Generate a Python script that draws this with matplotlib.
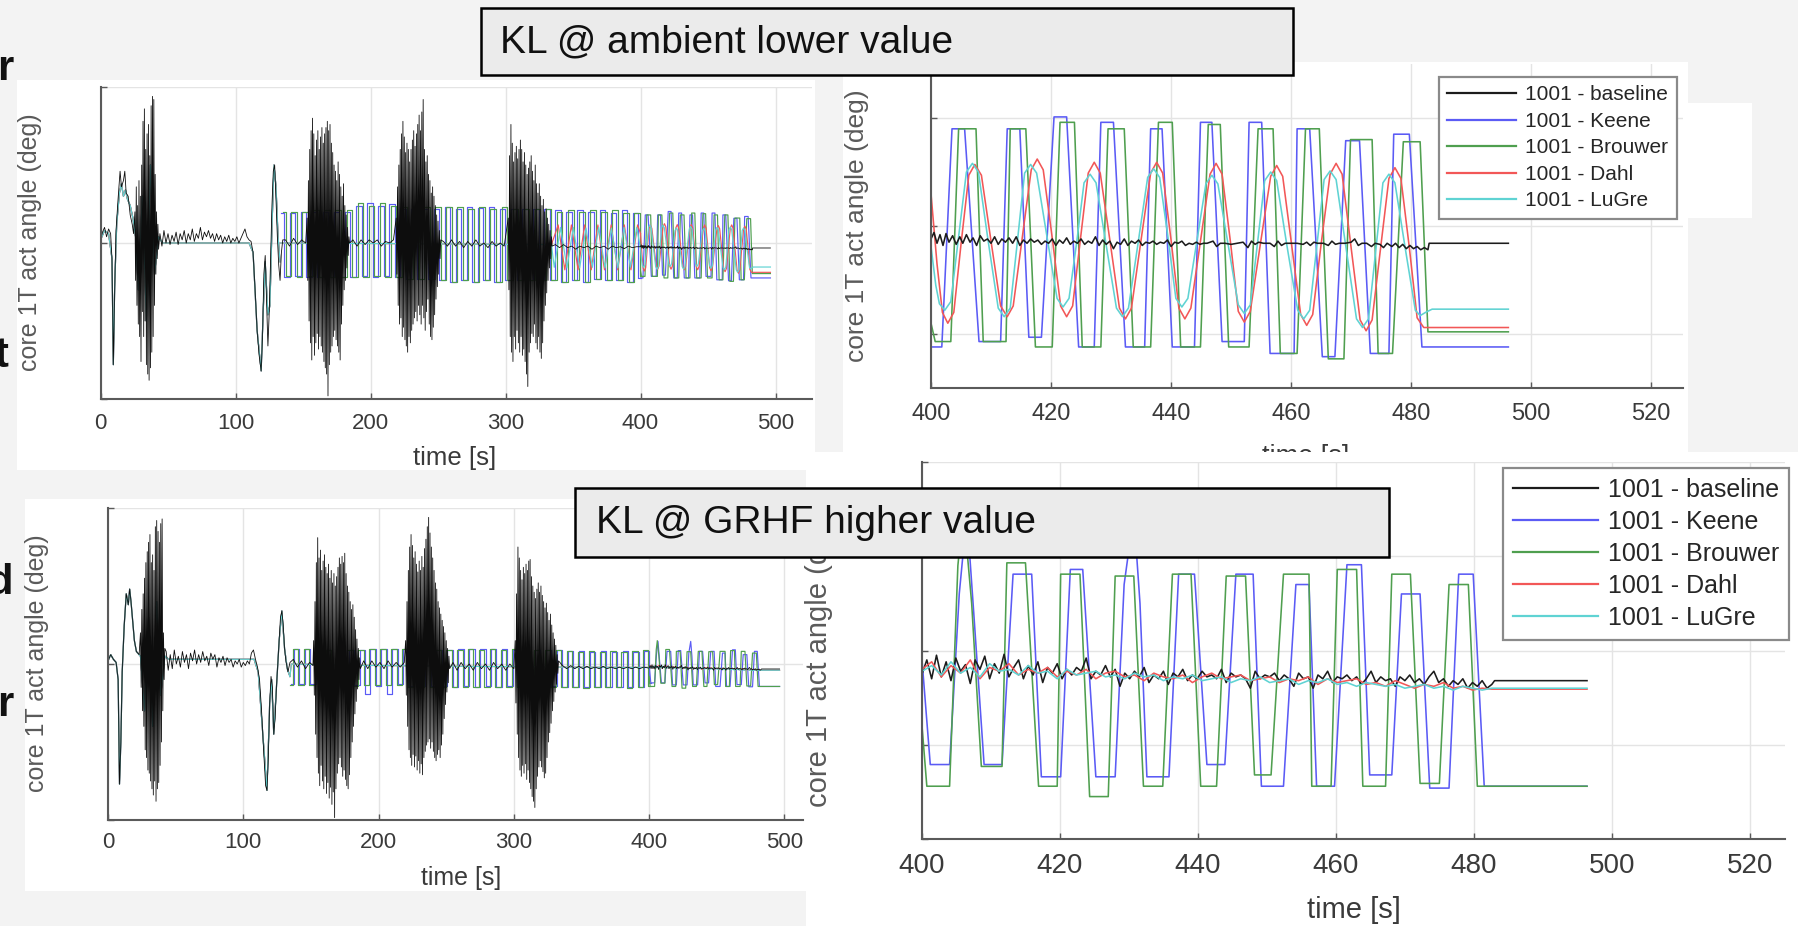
import numpy as np
import matplotlib
matplotlib.use('Agg')
import matplotlib.pyplot as plt
from matplotlib.patches import Rectangle
from matplotlib.lines import Line2D

plt.rcParams['font.family'] = ['Liberation Sans', 'DejaVu Sans']
W, H = 1798, 926

# ------------------------------------------------------------------ data
series_labels = ['1001 - baseline', '1001 - Keene', '1001 - Brouwer', '1001 - Dahl', '1001 - LuGre']
series_colors = ['#1c1c1c', '#5b5bf5', '#4f9f4f', '#f25757', '#5fd3d3']
box_titles = ['KL @ ambient lower value', 'KL @ GRHF higher value']
ylabel_text = 'core 1T act angle (deg)'
xlabel_text = 'time [s]'
overview_xticks = [0, 100, 200, 300, 400, 500]
zoom_xticks = [400, 420, 440, 460, 480, 500, 520]

# ---- ambient, zoom window (400-496 s)
amb_keene = [(400.0,-1.12),(401.8,-1.12),(403.5,0.90),(405.6,0.90),(408.0,-1.07),(411.6,-1.07),(412.7,0.90),(414.8,0.90),
             (416.3,-1.03),(418.4,-1.03),(420.5,1.01),(422.6,1.01),(424.6,-1.12),(427.2,-1.12),(428.3,0.96),(430.4,0.96),
             (432.4,-1.12),(435.6,-1.12),(436.6,0.90),(438.5,0.90),(440.2,-1.12),(443.9,-1.12),(444.9,0.96),(446.8,0.96),
             (448.5,-1.07),(452.2,-1.07),(453.0,0.96),(455.1,0.96),(456.5,-1.18),(460.5,-1.18),(461.0,0.90),(463.1,0.90),
             (465.2,-1.21),(467.3,-1.21),(469.1,0.79),(471.4,0.79),(473.2,-1.18),(476.3,-1.18),(477.1,0.85),(479.7,0.85),
             (481.8,-1.12),(496.2,-1.12)]
amb_brouwer = [(400.0,-0.90),(400.7,-1.07),(403.3,-1.07),(404.6,0.90),(407.5,0.90),(408.7,-1.07),(412.5,-1.07),(413.2,0.90),
               (415.8,0.90),(417.4,-1.12),(420.2,-1.12),(421.5,0.96),(423.9,0.96),(425.2,-1.12),(428.3,-1.12),(429.5,0.90),
               (432.2,0.90),(433.7,-1.12),(436.6,-1.12),(437.9,0.96),(440.2,0.96),(441.6,-1.12),(444.9,-1.12),(446.2,0.94),
               (448.2,0.94),(449.6,-1.12),(453.0,-1.12),(454.5,0.90),(457.0,0.90),(458.2,-1.18),(461.0,-1.18),(462.4,0.90),
               (464.7,0.90),(466.2,-1.23),(468.8,-1.23),(469.9,0.80),(473.5,0.80),(474.5,-1.18),(476.9,-1.18),(478.7,0.78),
               (481.5,0.78),(482.8,-0.98),(496.2,-0.98)]
amb_dahl = [(400.0,0.30),(401.0,-0.35),(401.9,-0.80),(402.8,-0.90),(403.8,-0.80),(405.0,-0.17),(406.3,0.47),(407.3,0.57),
            (408.4,0.47),(410.0,-0.14),(411.6,-0.74),(412.7,-0.84),(413.7,-0.74),(415.2,-0.11),(416.7,0.52),(417.7,0.62),
            (418.7,0.52),(420.2,-0.11),(421.6,-0.74),(422.6,-0.84),(423.6,-0.74),(424.9,-0.12),(426.2,0.49),(427.2,0.59),
            (428.2,0.49),(429.8,-0.13),(431.4,-0.76),(432.4,-0.86),(433.4,-0.76),(435.0,-0.13),(436.6,0.49),(437.6,0.59),
            (438.6,0.49),(440.0,-0.13),(441.3,-0.76),(442.3,-0.86),(443.3,-0.76),(444.9,-0.14),(446.5,0.48),(447.5,0.58),
            (448.5,0.48),(449.9,-0.15),(451.2,-0.79),(452.2,-0.89),(453.2,-0.79),(454.9,-0.16),(456.6,0.46),(457.6,0.56),
            (458.6,0.46),(460.1,-0.18),(461.6,-0.82),(462.6,-0.92),(463.6,-0.82),(465.0,-0.17),(466.5,0.48),(467.5,0.58),
            (468.5,0.48),(470.0,-0.20),(471.5,-0.87),(472.5,-0.97),(473.5,-0.87),(474.9,-0.21),(476.3,0.44),(477.3,0.54),
            (478.3,0.44),(479.7,-0.20),(481.0,-0.85),(482.1,-0.94),(496.2,-0.94)]
amb_lugre = [(400.0,-0.19),(400.8,-0.55),(401.4,-0.72),(402.3,-0.78),(403.3,-0.70),(404.6,-0.10),(405.9,0.50),(406.9,0.58),
             (407.9,0.50),(409.5,-0.13),(411.2,-0.76),(412.2,-0.84),(413.2,-0.76),(414.4,-0.14),(415.6,0.49),(416.6,0.57),
             (417.6,0.49),(419.3,-0.09),(421.0,-0.67),(422.0,-0.75),(423.0,-0.67),(424.3,-0.14),(425.5,0.40),(426.5,0.48),
             (427.5,0.40),(429.2,-0.18),(430.9,-0.76),(431.9,-0.84),(432.9,-0.76),(434.5,-0.16),(436.1,0.45),(437.1,0.53),
             (438.1,0.45),(439.5,-0.11),(440.8,-0.67),(441.8,-0.75),(442.8,-0.67),(444.3,-0.14),(445.8,0.39),(446.8,0.47),
             (447.8,0.39),(449.5,-0.17),(451.2,-0.73),(452.2,-0.81),(453.2,-0.73),(454.4,-0.16),(455.6,0.42),(456.6,0.50),
             (457.6,0.42),(459.3,-0.18),(461.1,-0.78),(462.1,-0.86),(463.1,-0.78),(464.3,-0.18),(465.5,0.43),(466.5,0.51),
             (467.5,0.43),(469.2,-0.22),(470.9,-0.86),(471.9,-0.94),(472.9,-0.86),(474.1,-0.23),(475.3,0.40),(476.3,0.48),
             (477.3,0.40),(479.0,-0.20),(480.7,-0.78),(481.5,-0.83),(482.4,-0.80),(483.5,-0.77),(496.2,-0.77)]
amb_base = [(400.0,-0.12),(400.5,-0.06),(401.0,-0.16),(401.5,-0.08),(402.0,-0.18),(402.5,-0.07),(403.0,-0.15),(403.6,-0.09),
            (404.2,-0.17),(404.8,-0.10),(405.3,-0.16),(405.9,-0.08),(406.5,-0.15),(407.0,-0.11),(407.6,-0.18),(408.2,-0.09),
            (408.8,-0.14),(409.4,-0.12),(410.0,-0.16),(410.6,-0.10),(411.2,-0.17),(411.8,-0.12),(412.4,-0.15),(413.0,-0.11),
            (413.6,-0.16),(414.2,-0.10),(414.8,-0.18),(415.4,-0.13),(416.0,-0.16),(416.6,-0.12),(417.2,-0.15),(417.8,-0.13),
            (418.4,-0.17),(419.0,-0.14),(419.6,-0.16),(420.2,-0.12),(420.8,-0.18),(421.4,-0.13),(422.0,-0.16),(422.6,-0.11),
            (423.2,-0.17),(423.8,-0.14),(424.4,-0.16),(425.0,-0.12),(425.6,-0.17),(426.2,-0.14),(426.8,-0.16),(427.4,-0.10),
            (428.0,-0.18),(428.6,-0.13),(429.2,-0.17),(429.8,-0.14),(430.4,-0.21),(431.0,-0.15),(431.6,-0.17),(432.2,-0.12),
            (432.8,-0.18),(433.4,-0.14),(434.0,-0.16),(434.6,-0.13),(435.2,-0.18),(435.8,-0.15),(436.4,-0.16),(437.0,-0.14),
            (437.6,-0.17),(438.2,-0.15),(438.8,-0.16),(439.4,-0.13),(440.0,-0.19),(440.6,-0.15),(441.2,-0.16),(441.8,-0.14),
            (442.4,-0.18),(443.0,-0.16),(443.6,-0.17),(444.2,-0.15),(444.8,-0.17),(445.4,-0.16),(446.0,-0.16),(447.0,-0.14),
            (447.6,-0.19),(448.2,-0.16),(449.0,-0.16),(450.0,-0.17),(451.0,-0.16),(452.0,-0.15),(452.8,-0.20),(453.4,-0.14),
            (454.0,-0.17),(454.6,-0.15),(455.4,-0.16),(456.5,-0.16),(457.2,-0.19),(457.8,-0.14),(458.4,-0.18),(459.0,-0.16),
            (460.0,-0.16),(461.0,-0.16),(462.0,-0.17),(462.6,-0.15),(463.2,-0.18),(463.8,-0.15),(464.4,-0.16),(465.4,-0.16),
            (466.2,-0.18),(466.8,-0.14),(467.4,-0.17),(468.0,-0.16),(469.0,-0.16),(470.0,-0.15),(470.6,-0.12),(471.2,-0.18),
            (471.8,-0.16),(472.6,-0.16),(473.4,-0.19),(474.0,-0.16),(474.8,-0.17),(475.4,-0.20),(476.0,-0.16),(476.8,-0.19),
            (477.4,-0.16),(478.0,-0.20),(478.6,-0.17),(479.2,-0.21),(479.8,-0.18),(480.4,-0.21),(481.0,-0.19),(481.6,-0.22),
            (482.2,-0.20),(482.8,-0.22),(483.0,-0.16),(496.2,-0.16)]

# ---- ambient, full run before 400 s (overview)
amb_early = [(0,0.1),(3,0.4),(6,0.3),(8.5,-0.5),(9.5,-3.9),(10.5,-1.4),(12,0.6),(14,1.6),(15.5,1.9),(17,1.5),(18.5,1.7),
             (20,1.4),(22,1.2),(24,0.8),(26,0.2),(28,-1.5),(31,1.5),(34,-2.5),(37,2.5),(40,-1.0),(43,0.2),(46,0.0),(110,0.0),
             (113,-0.3),(116,-2.8),(119,-4.1),(120.5,-2.2),(122,-0.6),(124,-2.3),(125.5,-2.0),(127,0.5),(128.5,2.5),
             (130,1.8),(131.5,0.2),(133,-0.6)]
amb_sq_t_keene = [133.9,138.0,142.1,146.2,150.3,154.4,158.5,162.6,166.7,170.8,174.9,179.0,183.1,187.2,191.3,195.4,199.5,
                  203.6,207.7,211.8,215.9,220.0,224.1,228.2,232.3,236.4,240.5,244.6,248.7,252.8,256.9,261.0,265.1,269.2,
                  273.3,277.4,281.5,285.6,289.7,293.8,297.9,302.0,306.1,310.2,314.3,318.4,322.5,326.6,330.7,334.8,338.9,
                  343.0,347.1,351.2,355.3,359.4,363.5,367.6,371.7,375.8,379.9,384.0,388.1,392.2,396.3,400.4]
amb_sq_keene = [0.95,-1.08,0.95,-1.05,0.98,-1.08,
                1.0,-1.1,1.0,-1.1,1.0,-1.1,1.0,-1.1,
                1.2,-1.05,1.27,-1.08,1.2,-1.05,1.25,-1.1,
                1.1,-1.15,1.1,-1.15,1.1,-1.15,1.1,-1.2,
                1.16,-1.24,1.1,-1.2,1.16,-1.24,1.12,-1.2,1.16,-1.24,1.1,-1.2,
                1.1,-1.2,1.1,-1.2,1.1,-1.2,1.1,-1.2,
                1.06,-1.24,1.0,-1.2,1.06,-1.24,1.0,-1.15,1.06,-1.2,0.95,-1.2,1.06,-1.24,0.96,-1.12]
amb_sq_t_brouwer = [135.1,139.2,143.3,147.4,151.5,155.6,159.7,163.8,167.9,172.0,176.1,180.2,184.3,188.4,192.5,196.6,
                    200.7,204.8,208.9,213.0,217.1,221.2,225.3,229.4,233.5,237.6,241.7,245.8,249.9,254.0,258.1,262.2,
                    266.3,270.4,274.5,278.6,282.7,286.8,290.9,295.0,299.1,303.2,307.3,311.4,315.5,319.6,323.7,327.8,
                    331.9,336.0,340.1,344.2,348.3,352.4,356.5,360.6,364.7,368.8,372.9,377.0,381.1,385.2,389.3,393.4,
                    397.5,401.6]
amb_sq_brouwer = [1.0,-1.05,1.0,-1.08,1.0,-1.05,
                  1.05,-1.1,1.05,-1.1,1.05,-1.1,1.05,-1.1,
                  1.27,-1.08,1.2,-1.05,1.27,-1.08,1.2,-1.1,
                  1.15,-1.15,1.15,-1.15,1.15,-1.15,1.15,-1.2,
                  1.16,-1.24,1.16,-1.2,1.1,-1.24,1.16,-1.2,1.1,-1.24,1.16,-1.2,
                  1.1,-1.2,1.1,-1.2,1.1,-1.2,1.1,-1.2,
                  1.0,-1.24,1.06,-1.2,1.0,-1.24,1.06,-1.15,1.0,-1.2,1.06,-1.2,0.96,-1.24,0.96,-1.07]
amb_dahl_pre = [(133,0.0),(334,-0.05),(339.0,0.58),(343.9,-0.86),(348.8,0.58),(353.7,-0.86),(358.6,0.58),(363.5,-0.86),
                (368.4,0.58),(373.3,-0.86),(378.2,0.58),(383.1,-0.86),(388.0,0.58),(392.9,-0.86),(397.8,0.58),(400.0,0.30)]
amb_lugre_pre = [(133,0.0),(334,-0.05),(336.1,-0.78),(340.8,0.50),(345.5,-0.80),(350.2,0.50),(354.9,-0.80),(359.6,0.48),
                 (364.3,-0.78),(369.0,0.50),(373.7,-0.80),(378.4,0.48),(383.1,-0.80),(387.8,0.50),(392.5,-0.78),
                 (397.2,0.50),(400.0,-0.19)]
amb_base_start = [(0,0.1),(1.5,0.35),(3,0.5),(4.5,0.2),(6,0.45),(7.5,0.3),(8.5,-0.5),(9.5,-3.9),(10.5,-1.5),(11.5,0.4),
                  (13,1.4),(14.5,2.3),(15.5,1.8),(17,2.0),(18,2.3),(19,1.6),(20.5,1.5),(22,0.9),(23.5,0.6),(24.5,0.3)]
amb_burst1 = (25.5, 0.5, [1.0,-1.2,1.8,-2.0,1.2,-2.6,2.0,-3.0,1.5,-3.8,2.5,-2.2,3.9,-3.0,4.3,-2.5,3.0,-3.9,3.5,-4.2,
                          3.8,-4.4,2.8,-4.0,4.4,-3.5,4.7,-3.0,4.6,-2.0,2.2,-1.0,1.0,-0.5,0.6,-0.2])
amb_quiet1 = (44.0, 1.5, [0.3,-0.1,0.4,0.0,0.3,-0.05,0.25,0.05,0.35,-0.05,0.3,0.1,0.4,0.0,0.3,0.1,0.45,0.05,0.3,0.15,
                          0.5,0.1,0.35,0.2,0.4,0.15,0.3,0.05,0.3,0.1,0.25,0.0,0.2,0.05,0.25,0.0,0.15,0.05,0.2,0.0,
                          0.15,0.3,0.45,0.2,0.1,0.05])
amb_dip = [(113,-0.3),(114.5,-1.5),(116,-2.8),(117.5,-3.6),(119,-4.1),(120,-3.0),(121,-1.0),(122,-0.4),(123,-1.8),
           (124,-3.3),(125,-2.2),(126,-0.5),(127,1.2),(128,2.3),(129,2.5),(130,1.4),(131,0.2),(132,-0.7),(133,-1.2),
           (134,-0.3),(135,0.1),(137,0.1),(140,-0.1),(143,0.15),(146,-0.05),(149,0.1),(152,0.0)]
amb_burst2 = (153.0, 0.5, [0.8,-1.2,2.0,-2.5,3.0,-3.2,3.6,-3.75,4.0,-3.0,3.5,-3.6,2.8,-3.2,3.3,-2.9,3.6,-3.4,3.0,-3.0,
                           3.4,-3.3,3.7,-3.5,3.2,-3.8,3.5,-4.0,3.7,-4.2,3.9,-4.9,3.6,-3.9,3.8,-3.5,3.2,-3.3,2.9,-3.0,
                           2.5,-2.8,2.3,-3.1,2.0,-3.3,2.6,-3.5,2.2,-3.75,1.8,-2.6,1.5,-2.0,1.9,-1.5,1.2,-1.2,0.9,-0.8,
                           0.5,-0.4,0.2,0.0])
amb_quiet2 = (187.0, 3.0, [0.1,-0.1,0.1,-0.05,0.1,0.0,0.1,-0.1,0.05,0.0,0.1])
amb_burst3 = (219.0, 0.5, [0.8,-1.0,1.8,-2.0,2.5,-2.6,3.0,-2.4,3.5,-3.0,3.9,-2.7,3.4,-3.1,2.9,-3.3,3.2,-3.5,3.0,-3.0,
                           2.6,-3.2,3.0,-2.8,3.3,-2.6,3.6,-2.4,3.1,-2.2,3.5,-2.5,3.8,-2.0,4.1,-2.3,3.6,-2.6,4.2,-2.0,
                           4.6,-2.4,3.0,-2.8,2.6,-2.2,2.8,-1.8,2.2,-2.6,2.0,-3.0,1.6,-3.1,1.8,-2.7,1.5,-2.3,1.2,-1.8,
                           0.9,-1.4,0.7,-1.0,0.4,-0.5,0.1])
amb_quiet3 = (254.0, 3.0, [0.05,-0.1,0.1,-0.1,0.05,-0.15,0.05,-0.1,0.1,-0.1,0.0,-0.15,0.05,-0.1,0.0,-0.1])
amb_burst4 = (302.0, 0.5, [0.8,-1.5,2.8,-3.0,3.8,-3.5,3.2,-3.8,2.6,-3.0,2.9,-3.4,3.1,-2.8,2.7,-3.2,3.0,-3.5,3.3,-3.0,
                           3.0,-3.6,2.6,-3.4,2.9,-3.8,2.5,-4.2,2.2,-4.6,2.4,-3.5,2.6,-3.2,2.8,-2.9,2.3,-3.0,2.0,-2.6,
                           2.5,-3.2,1.9,-3.4,1.6,-3.0,1.9,-3.5,1.5,-3.7,1.2,-3.2,1.4,-2.5,1.0,-2.0,1.1,-1.6,0.8,-1.2,
                           0.6,-0.8,0.4,-0.5,0.2,-0.1])
amb_tail = (337.0, 3.0, [-0.05,-0.15,-0.05,-0.15,-0.1,-0.2,-0.1,-0.15,-0.1,-0.2,-0.1,-0.15,-0.1,-0.2,-0.1,-0.15,
                         -0.12,-0.18,-0.1,-0.15,-0.12])

# ---- GRHF, zoom window (400-496 s)
gr_keene = [(400.0,-0.10),(401.2,-1.21),(404.0,-1.21),(405.4,0.60),(406.5,1.45),(407.5,0.40),(409.0,-1.21),(411.6,-1.21),
            (413.2,0.81),(415.9,0.81),(417.3,-1.34),(420.1,-1.34),(421.5,0.86),(423.3,0.86),(425.2,-1.34),(428.0,-1.34),
            (429.3,0.70),(430.7,1.45),(431.6,0.50),(432.6,-1.34),(435.8,-1.34),(437.2,0.81),(439.5,0.81),(441.3,-1.21),
            (443.9,-1.21),(445.5,0.81),(448.0,0.81),(449.2,-1.44),(452.4,-1.44),(454.2,0.70),(456.1,0.70),(457.2,-1.44),
            (459.8,-1.44),(461.6,0.91),(463.7,0.91),(464.9,-1.32),(468.1,-1.32),(469.5,0.60),(472.2,0.60),(473.6,-1.46),
            (476.4,-1.46),(477.8,0.81),(479.9,0.81),(481.5,-1.44),(496.4,-1.44)]
gr_brouwer = [(400.0,-0.80),(400.7,-1.44),(404.0,-1.44),(405.2,0.90),(406.0,1.50),(407.2,0.50),(408.6,-1.23),(411.6,-1.23),
              (412.3,0.93),(415.0,0.93),(416.9,-1.44),(419.6,-1.44),(420.1,0.81),(422.9,0.81),(424.3,-1.55),(427.0,-1.55),
              (428.0,0.79),(430.7,0.79),(432.1,-1.44),(434.9,-1.44),(436.3,0.81),(439.0,0.81),(440.4,-1.44),(442.7,-1.44),
              (444.1,0.79),(446.9,0.79),(448.2,-1.32),(450.6,-1.32),(452.4,0.81),(456.1,0.81),(456.5,-1.44),(459.3,-1.44),
              (460.2,0.86),(463.0,0.86),(463.9,-1.44),(467.2,-1.44),(468.1,0.81),(470.8,0.81),(472.2,-1.41),(475.0,-1.41),
              (476.4,0.70),(479.2,0.70),(480.5,-1.44),(496.4,-1.44)]
gr_base_noise = (400.0, 0.7, [-0.25,-0.10,-0.30,-0.05,-0.28,-0.12,-0.32,-0.08,-0.22,-0.15,-0.35,-0.10,-0.20,-0.06,-0.30,
                              -0.14,-0.24,-0.04,-0.28,-0.18,-0.10,-0.30,-0.16,-0.26,-0.12,-0.34,-0.18,-0.24,-0.14,-0.30,
                              -0.20,-0.26,-0.18,-0.22,-0.08,-0.30,-0.22,-0.26,-0.16,-0.28,-0.20,-0.38,-0.24,-0.30,-0.22,
                              -0.28,-0.18,-0.34,-0.26,-0.30,-0.22,-0.36,-0.24,-0.28,-0.20,-0.32,-0.26,-0.30,-0.22,-0.28,
                              -0.26,-0.30,-0.20,-0.34,-0.24,-0.28,-0.26,-0.30,-0.40,-0.22,-0.30,-0.26,-0.28,-0.24,-0.32,
                              -0.26,-0.30,-0.38,-0.24,-0.30,-0.28,-0.40,-0.26,-0.30,-0.22,-0.34,-0.28,-0.30,-0.26,-0.32,
                              -0.28,-0.36,-0.30,-0.22,-0.34,-0.28,-0.32,-0.30,-0.38,-0.28,-0.32,-0.26,-0.34,-0.30,-0.36,
                              -0.28,-0.22,-0.34,-0.30,-0.38,-0.32,-0.36,-0.30,-0.40,-0.34,-0.38,-0.32,-0.40,-0.36])
gr_base_end = [(483.0,-0.32),(496.4,-0.32)]
gr_dahl_noise = (400.0, 1.4, [-0.20,-0.12,-0.28,-0.16,-0.24,-0.10,-0.30,-0.18,-0.22,-0.14,-0.26,-0.20,-0.24,-0.18,-0.28,
                              -0.22,-0.26,-0.20,-0.30,-0.24,-0.22,-0.28,-0.26,-0.32,-0.24,-0.28,-0.30,-0.26,-0.34,-0.28,
                              -0.24,-0.30,-0.28,-0.26,-0.32,-0.30,-0.28,-0.34,-0.30,-0.32,-0.28,-0.36,-0.30,-0.34,-0.32,
                              -0.30,-0.36,-0.34,-0.38,-0.32,-0.36,-0.40,-0.36,-0.38,-0.34,-0.40,-0.38,-0.42,-0.40,-0.41])
gr_dahl_end = [(483.0,-0.41),(496.4,-0.41)]
gr_lugre_noise = (400.0, 1.4, [-0.22,-0.16,-0.26,-0.12,-0.24,-0.18,-0.28,-0.14,-0.22,-0.20,-0.26,-0.16,-0.24,-0.22,-0.30,
                               -0.20,-0.26,-0.24,-0.22,-0.28,-0.26,-0.30,-0.24,-0.28,-0.26,-0.32,-0.28,-0.30,-0.26,-0.32,
                               -0.30,-0.28,-0.34,-0.30,-0.32,-0.28,-0.34,-0.32,-0.30,-0.36,-0.32,-0.34,-0.30,-0.36,-0.34,
                               -0.38,-0.34,-0.36,-0.38,-0.36,-0.40,-0.38,-0.36,-0.40,-0.38,-0.42,-0.38,-0.40,-0.42,-0.40])
gr_lugre_end = [(483.0,-0.40),(496.4,-0.40)]

# ---- GRHF, full run before 400 s (overview)
gr_early = [(0,0.2),(2,0.6),(4,0.3),(6,0.1),(7.5,-1.0),(8.5,-7.7),(9.5,-5.0),(10.5,-0.5),(12,2.5),(13.5,4.5),(15,3.8),
            (16,4.8),(17,4.0),(18,3.0),(19.5,1.5),(21,0.8),(24,0.5),(27,-3.0),(30,3.0),(33,-4.0),(36,4.0),(39,-2.0),
            (42,0.5),(45,0.3),(108,0.3),(111,-0.5),(114,-4.0),(117.5,-8.1),(119.5,-2.5),(121,-1.0),(122.5,-4.5),
            (124.5,-1.5),(126.5,1.5),(128.5,3.4),(130.5,1.0),(132.5,-0.3),(134.5,-0.8)]
gr_sq_t_keene = [135.3,139.3,143.4,147.4,151.5,155.5,159.6,163.6,167.7,171.7,175.8,179.8,183.9,187.9,192.0,196.0,200.1,
                 204.1,208.2,212.2,216.3,220.3,224.4,228.4,232.5,236.5,240.6,244.6,248.7,252.7,256.8,260.8,264.9,268.9,
                 273.0,277.0,281.1,285.1,289.2,293.2,297.3,301.3,305.4,309.4,313.5,317.5,321.6,325.6,329.7,333.7,337.8,
                 341.8,345.9,349.9,354.0,358.0,362.1,366.1,370.2,374.2,378.3,382.3,386.4,390.4,394.5,398.5,401.0]
gr_sq_keene = [-1.3,0.94,-1.3,0.94,-1.3,0.9,
               -1.35,0.9,-1.35,0.9,-1.35,0.9,-1.35,0.9,
               -1.9,0.94,-1.4,0.94,-1.9,0.94,-1.3,0.94,
               -1.4,0.9,-1.4,0.9,-1.4,0.9,-1.4,0.9,
               -1.5,0.94,-1.4,0.94,-1.5,0.94,-1.4,0.94,-1.5,0.94,-1.4,0.9,
               -1.4,0.9,-1.4,0.9,-1.4,0.9,-1.4,0.9,
               -1.5,0.83,-1.45,0.83,-1.5,0.8,-1.45,0.83,-1.5,0.8,-1.45,0.83,-1.5,0.8,-1.45,0.83,-1.21]
gr_sq_t_brouwer = [134.5,138.5,142.6,146.6,150.7,154.7,158.8,162.8,166.9,170.9,175.0,179.0,183.1,187.1,191.2,195.2,
                   199.3,203.3,207.4,211.4,215.5,219.5,223.6,227.6,231.7,235.7,239.8,243.8,247.9,251.9,256.0,260.0,
                   264.1,268.1,272.2,276.2,280.3,284.3,288.4,292.4,296.5,300.5,304.6,308.6,312.7,316.7,320.8,324.8,
                   328.9,332.9,337.0,341.0,345.1,349.1,353.2,357.2,361.3,365.3,369.4,373.4,377.5,381.5,385.6,389.6,
                   393.7,397.7,400.7]
gr_sq_brouwer = [-1.35,0.94,-1.35,0.94,-1.35,0.94,
                 -1.4,0.9,-1.4,0.9,-1.4,0.9,-1.4,0.9,
                 -1.35,0.94,-1.35,0.94,-1.35,0.94,-1.35,0.94,
                 -1.45,0.9,-1.45,0.9,-1.45,0.9,-1.45,0.9,
                 -1.5,0.9,-1.5,0.94,-1.5,0.9,-1.5,0.94,-1.5,0.9,-1.5,0.94,
                 -1.45,0.9,-1.45,0.9,-1.45,0.9,-1.45,0.9,
                 -1.5,0.83,-1.5,0.8,-1.55,0.83,-1.5,0.8,-1.5,0.83,-1.5,0.8,-1.55,0.83,-1.5,0.9,-1.44]
gr_smooth_pre = [(134.5,-0.8),(135.5,0.0),(200,-0.1),(336,-0.2),(400.0,-0.22)]
gr_base_start = [(0,0.2),(2,0.6),(4,0.3),(6,0.1),(7.5,-1.0),(8.5,-7.7),(9.5,-5.0),(10.5,-0.5),(12,2.5),(13.5,4.5),
                 (15,3.8),(16,4.8),(17,4.0),(18,3.0),(19.5,1.5),(21,0.8),(23,0.6)]
gr_burst1 = (24.0, 0.5, [2.0,-1.5,3.5,-3.0,4.5,-4.0,5.5,-5.5,6.5,-6.0,7.2,-6.8,7.8,-7.0,8.3,-7.5,6.5,-8.0,7.0,-8.4,
                         6.0,-7.5,8.8,-8.8,9.2,-8.0,8.5,-7.6,7.8,-6.5,9.0,-5.0,9.3,-3.0,2.0,-1.0,1.0])
gr_quiet1 = (43.0, 1.5, [0.8,-0.4,0.6,-0.3,0.9,0.0,0.5,-0.2,0.8,0.1,0.6,-0.3,0.7,0.2,0.9,0.0,0.6,0.1,0.8,0.2,
                         0.5,-0.1,0.7,0.3,0.6,-0.2,0.4,0.1,0.5,-0.1,0.4,0.1,0.3,-0.2,0.2,0.0,0.3,-0.2,0.1,-0.1,
                         0.2,0.0,0.7,0.9,0.3,-0.2])
gr_dip = [(112,-1.0),(113.5,-3.0),(115,-5.5),(116.5,-7.8),(117.5,-8.1),(118.5,-6.0),(119.5,-2.5),(120.5,-0.8),
          (121.5,-1.5),(122.5,-4.5),(123.5,-3.5),(124.5,-1.5),(125.5,0.0),(126.5,1.5),(127.5,3.0),(128.5,3.4),
          (129.5,2.5),(130.5,1.0),(131.5,0.2),(133,-0.5),(134.5,0.1),(137,0.3),(140,-0.2),(143,0.2),(146,-0.3),
          (149,0.1),(151.5,-0.1)]
gr_burst2 = (152.0, 0.5, [1.5,-2.0,4.0,-4.5,6.5,-6.0,8.1,-7.0,6.8,-7.8,7.3,-6.5,6.0,-7.5,6.6,-8.0,7.0,-7.2,6.2,-8.3,
                          5.8,-7.6,6.4,-8.6,5.5,-7.9,6.0,-9.0,5.2,-8.2,5.8,-9.85,5.0,-8.0,5.6,-7.0,6.2,-6.4,6.8,-6.0,
                          6.4,-6.6,6.9,-7.2,6.5,-6.8,7.1,-7.4,5.8,-7.8,5.0,-8.0,4.6,-7.1,4.0,-6.0,3.5,-5.0,3.8,-4.0,
                          3.0,-3.2,2.2,-2.4,1.6,-1.6,1.0,-1.0,0.4,-0.3])
gr_quiet2 = (189.0, 3.0, [0.2,-0.3,0.2,-0.2,0.1,-0.3,0.2,-0.2,0.1,-0.2,0.1])
gr_burst3 = (220.0, 0.5, [1.5,-2.0,4.0,-4.0,6.0,-5.5,7.5,-6.0,8.3,-6.5,7.6,-5.8,6.8,-6.6,7.2,-5.9,6.4,-6.8,5.9,-6.2,
                          6.6,-7.0,6.0,-6.4,6.9,-7.1,6.2,-6.0,7.4,-5.6,8.0,-5.2,8.8,-5.0,9.4,-4.8,8.4,-5.4,7.5,-5.0,
                          6.8,-5.6,6.0,-6.0,5.2,-6.2,4.8,-5.8,4.0,-5.5,3.6,-6.0,3.2,-5.2,2.8,-4.5,2.4,-3.5,2.0,-2.6,
                          1.5,-1.8,1.0,-1.2,0.5,-0.3])
gr_quiet3 = (255.0, 3.0, [0.1,-0.4,0.1,-0.3,0.0,-0.4,0.1,-0.3,0.0,-0.4,0.1,-0.3,0.0,-0.4,0.0,-0.3])
gr_burst4 = (301.0, 0.5, [1.5,-2.5,4.5,-4.5,7.5,-6.0,6.8,-6.8,6.0,-7.2,5.4,-6.5,6.2,-7.0,5.8,-6.4,6.4,-7.4,6.0,-6.8,
                          6.6,-7.6,6.7,-8.0,5.6,-8.5,5.0,-8.8,4.6,-9.2,4.2,-8.0,4.8,-7.2,5.2,-6.6,4.6,-6.2,5.0,-6.6,
                          4.4,-6.9,4.0,-7.3,3.6,-7.0,3.9,-6.0,3.3,-5.0,2.8,-4.4,3.2,-3.8,2.5,-3.0,2.0,-2.4,1.6,-1.8,
                          1.2,-1.3,0.6,-0.6,0.2])
gr_tail = (336.0, 3.0, [-0.1,-0.3,-0.1,-0.3,-0.15,-0.3,-0.15,-0.3,-0.2,-0.3,-0.15,-0.3,-0.2,-0.3,-0.2,-0.3,-0.2,
                        -0.3,-0.2,-0.3,-0.2,-0.25])


# ------------------------------------------------------------------ helpers
def pairs(p):
    a = np.asarray(p, dtype=float)
    return a[:, 0], a[:, 1]


def sampled(s):
    t0, dt, vals = s
    v = np.asarray(vals, dtype=float)
    return t0 + dt * np.arange(len(v)), v


def join(*parts):
    ts, vs = [], []
    for p in parts:
        t, v = sampled(p) if isinstance(p, tuple) else pairs(p)
        ts.append(t)
        vs.append(v)
    return np.concatenate(ts), np.concatenate(vs)


fig = plt.figure(figsize=(W / 100, H / 100), dpi=100)
fig.patch.set_facecolor('#f3f3f3')


def rect_frac(l, t, r, b):
    return [l / W, 1 - b / H, (r - l) / W, (b - t) / H]


def add_rect(l, t, r, b, z, fc='white', ec='none', lw=0.0):
    x, y, w, h = rect_frac(l, t, r, b)
    fig.add_artist(Rectangle((x, y), w, h, transform=fig.transFigure, facecolor=fc,
                             edgecolor=ec, linewidth=lw, zorder=z))


def make_axes(box, z, xlim, ylim, xticks, yticks, tick_fs, pad):
    ax = fig.add_axes(rect_frac(*box), zorder=z)
    ax.set_facecolor('none')
    ax.set_xlim(*xlim)
    ax.set_ylim(*ylim)
    ax.set_xticks(xticks)
    ax.set_yticks(yticks)
    ax.set_yticklabels([])
    for s in ('top', 'right'):
        ax.spines[s].set_visible(False)
    for s in ('left', 'bottom'):
        ax.spines[s].set_color('#5a5a5a')
        ax.spines[s].set_linewidth(1.5)
    ax.tick_params(direction='in', length=4, width=1.0, color='#5a5a5a',
                   labelsize=tick_fs, labelcolor='#3a3a3a', pad=pad)
    ax.grid(True, color='#e4e4e4', linewidth=1.0)
    ax.set_axisbelow(True)
    return ax


def place_labels(ax, box, ypos, yfs, xpos, xfs):
    l, t, r, b = box
    ax.set_ylabel(ylabel_text, fontsize=yfs, color='#5a5a5a')
    ax.yaxis.label.set_va('center')
    ax.yaxis.set_label_coords((ypos[0] - l) / (r - l), (b - ypos[1]) / (b - t))
    ax.set_xlabel(xlabel_text, fontsize=xfs, color='#3a3a3a')
    ax.xaxis.label.set_va('center')
    ax.xaxis.set_label_coords((xpos[0] - l) / (r - l), (b - xpos[1]) / (b - t))


def add_legend(ax, x, y, fs, ls, hl, tp):
    handles = [Line2D([], [], color=c, lw=1.6) for c in series_colors]
    leg = ax.legend(handles, series_labels, loc='upper left', bbox_to_anchor=(x / W, 1 - y / H),
                    bbox_transform=fig.transFigure, fontsize=fs, frameon=True, fancybox=False,
                    edgecolor='#8a8a8a', facecolor='white', framealpha=1, borderpad=0.4,
                    labelspacing=ls, handlelength=hl, handletextpad=tp, borderaxespad=0)
    leg.get_frame().set_linewidth(1.6)
    for t in leg.get_texts():
        t.set_color('#262626')


LWZ, LWO, LWB = 1.15, 0.85, 0.6
c_base, c_keene, c_brouwer, c_dahl, c_lugre = series_colors

# ------------------------------------------------------------------ panel 1: ambient overview
add_rect(17, 80, 815, 470, 10)
box1 = (100.5, 87, 812, 399)
ax1 = make_axes(box1, 11, (0, 527), (-5, 5), overview_xticks, [-5, 0, 5], 16, 10)
ax1.plot(*pairs(amb_early), color=c_keene, lw=LWO)
ax1.plot(amb_sq_t_keene, amb_sq_keene, drawstyle='steps-mid', color=c_keene, lw=LWO)
ax1.plot(*pairs(amb_keene), color=c_keene, lw=LWO)
ax1.plot(*pairs(amb_early), color=c_brouwer, lw=LWO)
ax1.plot(amb_sq_t_brouwer, amb_sq_brouwer, drawstyle='steps-mid', color=c_brouwer, lw=LWO)
ax1.plot(*pairs(amb_brouwer), color=c_brouwer, lw=LWO)
ax1.plot(*pairs(amb_early), color=c_dahl, lw=LWO)
ax1.plot(*pairs(amb_dahl_pre), color=c_dahl, lw=LWO)
ax1.plot(*pairs(amb_dahl), color=c_dahl, lw=LWO)
ax1.plot(*pairs(amb_early), color=c_lugre, lw=LWO)
ax1.plot(*pairs(amb_lugre_pre), color=c_lugre, lw=LWO)
ax1.plot(*pairs(amb_lugre), color=c_lugre, lw=LWO)
ax1.plot(*join(amb_base_start, amb_burst1, amb_quiet1, amb_dip, amb_burst2, amb_quiet2, amb_burst3,
               amb_quiet3, amb_burst4, amb_tail, amb_base), color='#0d0d0d', lw=LWB)
place_labels(ax1, box1, (30, 242), 18, (455, 458), 18.5)

# ------------------------------------------------------------------ panel 2: ambient zoom
add_rect(843, 62, 1688, 452, 20)
add_rect(1686, 103, 1752, 218, 20)
box2 = (931, 64, 1683, 388)
ax2 = make_axes(box2, 21, (400, 525.3), (-1.5, 1.5), zoom_xticks, [-1, 0, 1], 17, 10.5)
ax2.plot(*pairs(amb_keene), color=c_keene, lw=LWZ)
ax2.plot(*pairs(amb_brouwer), color=c_brouwer, lw=LWZ)
ax2.plot(*pairs(amb_dahl), color=c_dahl, lw=LWZ)
ax2.plot(*pairs(amb_lugre), color=c_lugre, lw=LWZ)
ax2.plot(*pairs(amb_base), color=c_base, lw=LWZ)
place_labels(ax2, box2, (857, 226), 19, (1306, 457), 19.5)
add_legend(ax2, 1439, 77, 15, 0.36, 3.3, 0.45)

# ------------------------------------------------------------------ panel 3: GRHF overview
add_rect(25, 499, 806, 891, 30)
box3 = (108, 508, 803, 820)
ax3 = make_axes(box3, 31, (0, 513.7), (-10, 10), overview_xticks, [-10, 0, 10], 16, 9)
ax3.plot(*pairs(gr_early), color=c_keene, lw=LWO)
ax3.plot(gr_sq_t_keene, gr_sq_keene, drawstyle='steps-mid', color=c_keene, lw=LWO)
ax3.plot(*pairs(gr_keene), color=c_keene, lw=LWO)
ax3.plot(*pairs(gr_early), color=c_brouwer, lw=LWO)
ax3.plot(gr_sq_t_brouwer, gr_sq_brouwer, drawstyle='steps-mid', color=c_brouwer, lw=LWO)
ax3.plot(*pairs(gr_brouwer), color=c_brouwer, lw=LWO)
for col, noise, end in ((c_dahl, gr_dahl_noise, gr_dahl_end), (c_lugre, gr_lugre_noise, gr_lugre_end)):
    ax3.plot(*pairs(gr_early), color=col, lw=LWO)
    ax3.plot(*join(gr_smooth_pre, noise, end), color=col, lw=LWO)
ax3.plot(*join(gr_base_start, gr_burst1, gr_quiet1, gr_dip, gr_burst2, gr_quiet2, gr_burst3, gr_quiet3,
               gr_burst4, gr_tail, gr_base_noise, gr_base_end), color='#0d0d0d', lw=LWB)
place_labels(ax3, box3, (37, 663), 18, (461, 878), 18)

# ------------------------------------------------------------------ panel 4: GRHF zoom
add_rect(806, 452, 1798, 926, 40)
box4 = (922, 462, 1785, 839)
ax4 = make_axes(box4, 41, (400, 525.1), (-2, 2), zoom_xticks, [-2, -1, 0, 1, 2], 20, 10)
ax4.plot(*pairs(gr_keene), color=c_keene, lw=LWZ)
ax4.plot(*pairs(gr_brouwer), color=c_brouwer, lw=LWZ)
ax4.plot(*join(gr_base_noise, gr_base_end), color=c_base, lw=LWZ)
ax4.plot(*join(gr_dahl_noise, gr_dahl_end), color=c_dahl, lw=LWZ)
ax4.plot(*join(gr_lugre_noise, gr_lugre_end), color=c_lugre, lw=LWZ)
place_labels(ax4, box4, (819, 656), 21, (1354, 910), 21)
add_legend(ax4, 1503, 468, 18, 0.32, 3.4, 0.4)

# ------------------------------------------------------------------ title boxes
add_rect(481, 8, 1293, 75, 50, fc='#ebebeb', ec='black', lw=1.8)
fig.text(500 / W, 1 - 42 / H, box_titles[0], fontsize=28, color='#111111', ha='left', va='center', zorder=51)
add_rect(575, 488, 1389, 557, 60, fc='#ebebeb', ec='black', lw=1.8)
fig.text(596 / W, 1 - 523 / H, box_titles[1], fontsize=28, color='#111111', ha='left', va='center', zorder=61)

# cropped slide text at the left edge
for ch, yy, xr in (('r', 69, 13), ('t', 356, 8), ('d', 583, 13), ('r', 705, 13)):
    fig.text(xr / W, 1 - yy / H, ch, fontsize=30, fontweight='bold', color='#111111',
             ha='right', va='center', zorder=70)

fig.savefig('out.png', dpi=100, facecolor=fig.get_facecolor())
